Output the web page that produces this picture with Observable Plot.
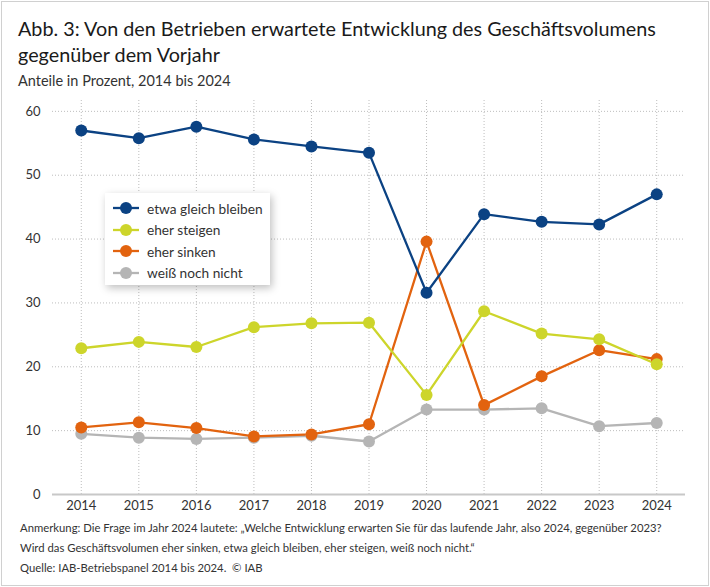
<!DOCTYPE html>
<html>
<head>
<meta charset="utf-8">
<script src="https://cdn.jsdelivr.net/npm/d3@7"></script>
<script src="https://cdn.jsdelivr.net/npm/@observablehq/plot@0.6"></script>
<style>
  html, body { margin: 0; padding: 0; background: #fff; }
  body { width: 710px; height: 587px; position: relative; overflow: hidden; font-family: Lato, "Open Sans", sans-serif; color: #222; }
  #frame { position: absolute; left: 1px; top: 1px; width: 706px; height: 583px; border: 1px solid #d0d0d0; }
  #title { position: absolute; left: 18px; top: 15px; font-size: 19.8px; line-height: 26px; color: #1a1a1a; }
  #subtitle { position: absolute; left: 18px; top: 72px; font-size: 14.5px; color: #333; }
  #chart { position: absolute; left: 0; top: 95px; }
  #legend { position: absolute; left: 105px; top: 193px; width: 165px; height: 92px; background: #fff; box-shadow: 2px 3px 8px rgba(0,0,0,0.25); }
  .item { position: absolute; left: 8px; height: 20px; display: flex; align-items: center; font-size: 13.7px; color: #333; }
  .item svg { margin-right: 8px; }
  #note { position: absolute; left: 20px; top: 518px; font-size: 11.3px; line-height: 20px; color: #333; }
</style>
</head>
<body>
<div id="frame"></div>
<div id="title">Abb. 3: Von den Betrieben erwartete Entwicklung des Geschäftsvolumens<br>gegenüber dem Vorjahr</div>
<div id="subtitle">Anteile in Prozent, 2014 bis 2024</div>
<div id="chart"></div>
<div id="legend"></div>
<div id="note">Anmerkung: Die Frage im Jahr 2024 lautete: „Welche Entwicklung erwarten Sie für das laufende Jahr, also 2024, gegenüber 2023?<br>Wird das Geschäftsvolumen eher sinken, etwa gleich bleiben, eher steigen, weiß noch nicht.“<br>Quelle: IAB-Betriebspanel 2014 bis 2024.&nbsp; © IAB</div>
<script>
const years = [2014, 2015, 2016, 2017, 2018, 2019, 2020, 2021, 2022, 2023, 2024];
const gleich = [57.0, 55.8, 57.6, 55.6, 54.5, 53.5, 31.6, 43.9, 42.7, 42.3, 47.0];
const steigen = [22.9, 23.9, 23.1, 26.2, 26.8, 26.9, 15.6, 28.7, 25.2, 24.3, 20.4];
const sinken = [10.5, 11.3, 10.4, 9.1, 9.4, 11.0, 39.6, 14.0, 18.5, 22.6, 21.2];
const weiss = [9.5, 8.9, 8.7, 8.9, 9.2, 8.3, 13.3, 13.3, 13.5, 10.7, 11.2];
const seriesNames = ["etwa gleich bleiben", "eher steigen", "eher sinken", "weiß noch nicht"];
const seriesColors = ["#0b4283", "#cdd52b", "#e2630f", "#b5b5b5"];
const yTicks = [0, 10, 20, 30, 40, 50, 60];

const valuesBySeries = [gleich, steigen, sinken, weiss];
const data = [];
// draw order: grey, orange, yellow, blue (blue on top)
[3, 2, 1, 0].forEach(si => {
  years.forEach((yr, i) => data.push({series: seriesNames[si], year: yr, value: valuesBySeries[si][i]}));
});

const plot = Plot.plot({
  width: 700,
  height: 420,
  marginLeft: 52,
  marginRight: 15,
  marginTop: 5,
  marginBottom: 21,
  style: {fontFamily: "Lato, 'Open Sans', sans-serif", fontSize: "13px", color: "#333", background: "transparent"},
  x: {domain: [2013.5, 2024.5], ticks: years, tickFormat: d => String(d), tickSize: 0, tickPadding: 6, label: null},
  y: {domain: [0, 61.7], ticks: yTicks, tickSize: 0, tickPadding: 12, label: null},
  color: {domain: seriesNames, range: seriesColors},
  marks: [
    Plot.gridY(yTicks.filter(d => d > 0), {stroke: "#bdbdbd", strokeOpacity: 1, strokeDasharray: "1,2", strokeWidth: 1}),
    Plot.gridX(years, {stroke: "#bdbdbd", strokeOpacity: 1, strokeDasharray: "1,2", strokeWidth: 1}),
    Plot.ruleY([0], {stroke: "#c8c8c8", strokeWidth: 2}),
    Plot.line(data, {x: "year", y: "value", z: "series", stroke: "series", strokeWidth: 2.3}),
    Plot.dot(data, {x: "year", y: "value", fill: "series", r: 6, stroke: null})
  ]
});
document.getElementById("chart").appendChild(plot);

const legend = document.getElementById("legend");
seriesNames.forEach((name, i) => {
  const div = document.createElement("div");
  div.className = "item";
  div.style.top = (5 + i * 21.5) + "px";
  div.innerHTML = `<svg width="26" height="14"><line x1="0" x2="26" y1="7" y2="7" stroke="${seriesColors[i]}" stroke-width="2.3"/><circle cx="13" cy="7" r="6" fill="${seriesColors[i]}"/></svg><span>${name}</span>`;
  legend.appendChild(div);
});
</script>
</body>
</html>
